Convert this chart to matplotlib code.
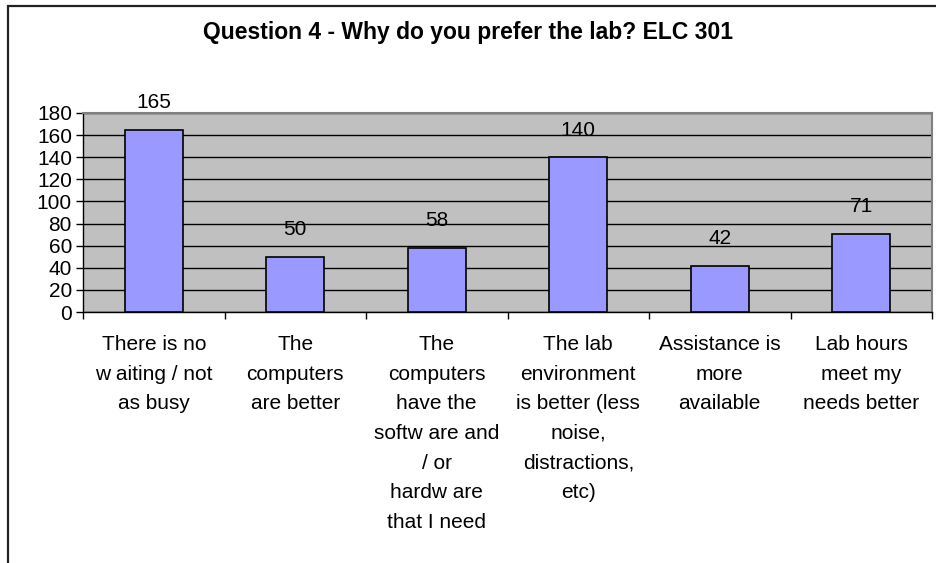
import matplotlib
matplotlib.use("Agg")
import matplotlib.pyplot as plt
from matplotlib.patches import Rectangle
import numpy as np

plt.rcParams.update({'font.family': 'Liberation Sans', 'font.size': 15})

# data
categories = [
    "There is no\nw aiting / not\nas busy",
    "The\ncomputers\nare better",
    "The\ncomputers\nhave the\nsoftw are and\n/ or\nhardw are\nthat I need",
    "The lab\nenvironment\nis better (less\nnoise,\ndistractions,\netc)",
    "Assistance is\nmore\navailable",
    "Lab hours\nmeet my\nneeds better",
]
counts = [165, 50, 58, 140, 42, 71]
y_ticks = list(range(0, 181, 20))
title = "Question 4 - Why do you prefer the lab? ELC 301"

W, H = 936, 563
fig = plt.figure(figsize=(W / 100, H / 100), dpi=100)

# outer chart frame (only left and top edges visible)
fig.add_artist(Rectangle((8 / W, -0.1), 1.2, 1.1 - 6 / H,
                         transform=fig.transFigure, fill=False,
                         edgecolor='#222222', linewidth=1.6))

ax = fig.add_axes([83 / W, 1 - 312 / H, (932 - 83) / W, (312 - 113) / H])
ax.set_facecolor('#C0C0C0')

x = np.arange(len(counts))
bars = ax.bar(x, counts, width=0.41, color='#9999FF', edgecolor='black',
              linewidth=1.2, zorder=3)
for rect, v in zip(bars, counts):
    ax.annotate(str(v), (rect.get_x() + rect.get_width() / 2, v),
                xytext=(0, 19.5), textcoords='offset points',
                ha='center', va='center')

ax.set_xlim(-0.5, len(counts) - 0.5)
ax.set_ylim(0, 180)
ax.set_yticks(y_ticks)
ax.yaxis.grid(True, color='black', linewidth=1)
ax.set_axisbelow(True)

ax.set_xticks(x)
ax.set_xticklabels(categories, linespacing=1.71)
ax.set_xticks(np.arange(-0.5, len(counts), 1), minor=True)
ax.tick_params(axis='x', which='major', length=0, pad=16.5)
ax.tick_params(axis='x', which='minor', length=5, direction='out', width=1)
ax.tick_params(axis='y', length=5, direction='out', width=1, pad=3)

for side in ('top', 'right'):
    ax.spines[side].set_color('#808080')
    ax.spines[side].set_linewidth(1.5)
for side in ('left', 'bottom'):
    ax.spines[side].set_color('black')
    ax.spines[side].set_linewidth(1)

fig.text(468 / W, 1 - 32 / H, title, ha='center', va='center',
         fontsize=16.5, fontweight='bold')

fig.savefig('out.png', dpi=100)
